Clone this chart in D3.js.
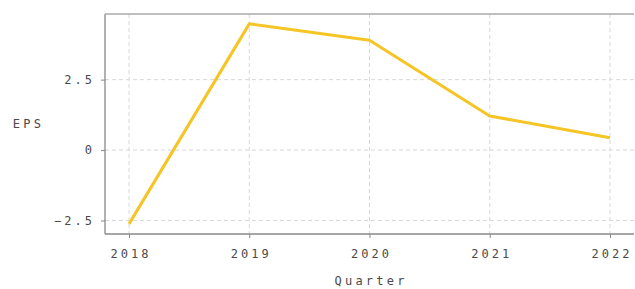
<!DOCTYPE html>
<html>
<head>
<meta charset="utf-8">
<script src="https://cdn.jsdelivr.net/npm/d3@7"></script>
<style>
  body { margin: 0; background: #fff; }
  text { font-family: "DejaVu Sans Mono", monospace; fill: #4a4a4a; }
  .tick text { font-size: 12px; letter-spacing: 3px; }
  .label { font-size: 12px; letter-spacing: 3.2px; }
</style>
</head>
<body>
<svg id="chart" width="635" height="289"></svg>
<script>
// data
var years = [2018, 2019, 2020, 2021, 2022];
var eps = [-2.62, 4.48, 3.9, 1.21, 0.44];
var yTicks = [-2.5, 0, 2.5];

var margin = { top: 14, right: 1, bottom: 55, left: 105 };
var svg = d3.select("#chart");
var width = 635 - margin.left - margin.right;
var height = 289 - margin.top - margin.bottom;

var x = d3.scaleLinear().domain([2017.8, 2022.2]).range([0, width]);
var y = d3.scaleLinear().domain([-2.98, 4.83]).range([height, 0]);

var g = svg.append("g")
  .attr("transform", "translate(" + margin.left + "," + margin.top + ")");

// grid
g.selectAll(".vgrid").data(years).enter().append("line")
  .attr("x1", function(d) { return x(d); }).attr("x2", function(d) { return x(d); })
  .attr("y1", 0).attr("y2", height)
  .attr("stroke", "#d8d8d8").attr("stroke-dasharray", "4,3");
g.selectAll(".hgrid").data(yTicks).enter().append("line")
  .attr("y1", function(d) { return y(d); }).attr("y2", function(d) { return y(d); })
  .attr("x1", 0).attr("x2", width)
  .attr("stroke", "#d8d8d8").attr("stroke-dasharray", "4,3");

// axes
var xAxis = g.append("g")
  .attr("transform", "translate(0," + height + ")")
  .call(d3.axisBottom(x).tickValues(years).tickFormat(d3.format("d")).tickSize(4).tickPadding(11));
xAxis.selectAll(".tick text").attr("dx", "1.5px");
var yAxis = g.append("g")
  .call(d3.axisLeft(y).tickValues(yTicks).tickFormat(function(d) { return d === 0 ? "0" : d3.format(".1f")(d).replace("-", "\u2212"); }).tickSize(4).tickPadding(6));
[xAxis, yAxis].forEach(function(a) {
  a.select(".domain").remove();
  a.selectAll(".tick line").attr("stroke", "#888");
});

// spines
g.append("line").attr("x1", 0).attr("x2", 0).attr("y1", 0).attr("y2", height)
  .attr("stroke", "#888").attr("stroke-width", 1.3);
g.append("line").attr("x1", 0).attr("x2", width).attr("y1", height).attr("y2", height)
  .attr("stroke", "#888").attr("stroke-width", 1.3);
g.append("line").attr("x1", 0).attr("x2", width).attr("y1", 0).attr("y2", 0)
  .attr("stroke", "#aaa").attr("stroke-width", 1.3);

// the EPS line
var line = d3.line()
  .x(function(d, i) { return x(years[i]); })
  .y(function(d) { return y(d); });
g.append("path")
  .datum(eps)
  .attr("d", line)
  .attr("fill", "none")
  .attr("stroke", "#f5c425")
  .attr("stroke-width", 3)
  .attr("stroke-linejoin", "round");

// axis labels
svg.append("text").attr("class", "label")
  .attr("x", margin.left + width / 2 + 1.6).attr("y", 285)
  .attr("text-anchor", "middle").text("Quarter");
svg.append("text").attr("class", "label")
  .attr("x", 28.5).attr("y", 128)
  .attr("text-anchor", "middle").text("EPS");
</script>
</body>
</html>
